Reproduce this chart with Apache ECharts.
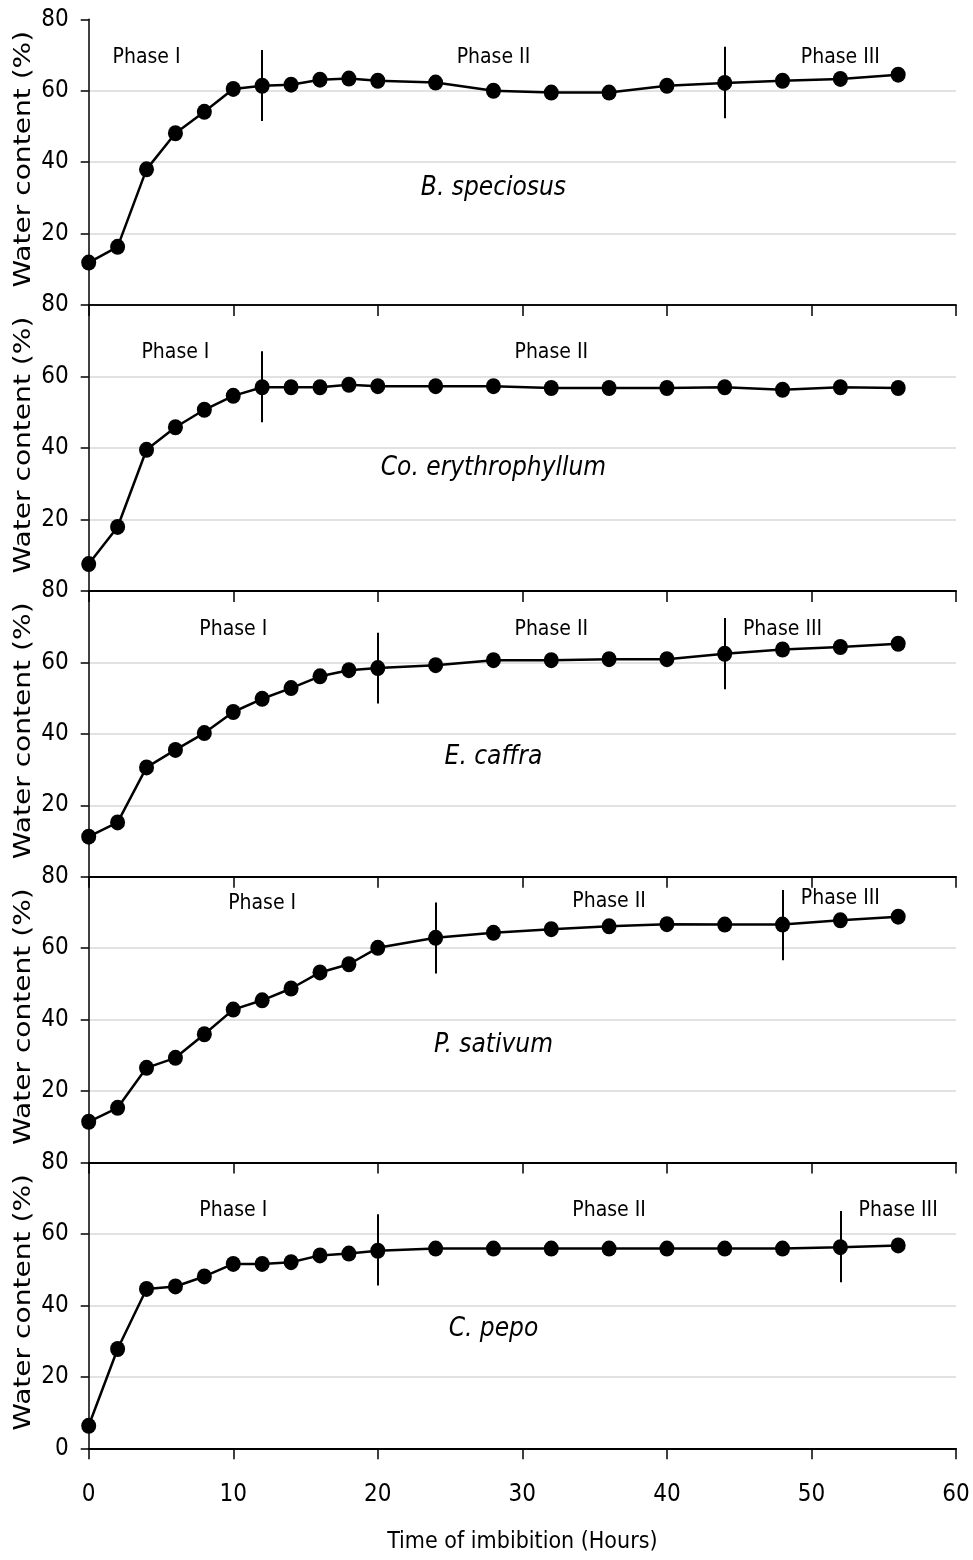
<!DOCTYPE html>
<html>
<head>
<meta charset="utf-8">
<script src="https://cdn.jsdelivr.net/npm/echarts@6/dist/echarts.min.js"></script>
<style>
  html, body { margin: 0; padding: 0; background: #fff; }
  #chart { width: 973px; height: 1560px; }
</style>
</head>
<body>
<div id="chart"></div>
<script>
// ---------------- DATA ----------------
const hours = [0, 2, 4, 6, 8, 10, 12, 14, 16, 18, 20, 24, 28, 32, 36, 40, 44, 48, 52, 56];
const xTicks = [0, 10, 20, 30, 40, 50, 60];
const yTicks = [0, 20, 40, 60, 80];
const species = ['B. speciosus', 'Co. erythrophyllum', 'E. caffra', 'P. sativum', 'C. pepo'];

const bSpeciosus       = [11.9, 16.3, 38.0, 48.1, 54.1, 60.5, 61.4, 61.7, 63.1, 63.4, 62.8, 62.3, 60.0, 59.5, 59.5, 61.4, 62.2, 62.8, 63.3, 64.5];
const coErythrophyllum = [7.5, 17.9, 39.5, 45.8, 50.7, 54.6, 57.0, 57.0, 57.0, 57.7, 57.3, 57.3, 57.3, 56.8, 56.8, 56.8, 57.0, 56.3, 57.0, 56.8];
const eCaffra          = [11.2, 15.2, 30.6, 35.5, 40.2, 46.1, 49.8, 52.8, 56.1, 57.8, 58.4, 59.2, 60.6, 60.6, 60.9, 60.9, 62.4, 63.6, 64.3, 65.2];
const pSativum         = [11.4, 15.3, 26.5, 29.3, 35.9, 42.8, 45.4, 48.7, 53.2, 55.5, 60.1, 62.9, 64.3, 65.3, 66.1, 66.7, 66.6, 66.6, 67.8, 68.8];
const cPepo            = [6.3, 27.8, 44.6, 45.3, 48.1, 51.6, 51.6, 52.1, 54.0, 54.5, 55.3, 55.9, 55.9, 55.9, 55.9, 55.9, 55.9, 55.9, 56.3, 56.8];

// phase dividers: [hour, low, high]
const dividersB  = [[12, 51.5, 71.4], [44, 52.3, 72.3]];
const dividersCo = [[12, 47.2, 67.1]];
const dividersE  = [[20, 48.5, 68.3], [44, 52.5, 72.4]];
const dividersP  = [[24, 52.9, 72.8], [48, 56.6, 76.3]];
const dividersC  = [[20, 45.6, 65.5], [52, 46.5, 66.4]];

// phase labels: [text, hour, value]
const phasesB  = [['Phase I', 4, 69.2], ['Phase II', 28, 69.2], ['Phase III', 52, 69.2]];
const phasesCo = [['Phase I', 6, 66.7], ['Phase II', 32, 66.7]];
const phasesE  = [['Phase I', 10, 69.2], ['Phase II', 32, 69.2], ['Phase III', 48, 69.2]];
const phasesP  = [['Phase I', 12, 72.6], ['Phase II', 36, 73.1], ['Phase III', 52, 73.8]];
const phasesC  = [['Phase I', 10, 66.5], ['Phase II', 36, 66.5], ['Phase III', 56, 66.5]];

// species label anchor [hour, value]
const speciesPos = [[28, 32.8], [28, 34.2], [28, 33.3], [28, 32.8], [28, 33.2]];

const yTitle = 'Water content (%)';
const xTitle = 'Time of imbibition (Hours)';

// ---------------- LAYOUT ----------------
const values   = [bSpeciosus, coErythrophyllum, eCaffra, pSativum, cPepo];
const dividers = [dividersB, dividersCo, dividersE, dividersP, dividersC];
const phases   = [phasesB, phasesCo, phasesE, phasesP, phasesC];

const NARROW = "'Liberation Sans Narrow', 'DejaVu Sans Condensed', 'Noto Sans', sans-serif";
const TOP0 = 19.3, PH = 285.8, LEFT = 88.7, RIGHT = 17;
const TXT = '#000';

const grids = [], xAxes = [], yAxes = [], series = [], graphics = [];

species.forEach((sp, i) => {
  const top = TOP0 + i * PH;
  grids.push({ left: LEFT, right: RIGHT, top: top, height: PH });
  xAxes.push({
    gridIndex: i, type: 'value', position: 'bottom',
    min: xTicks[0], max: xTicks[xTicks.length - 1], interval: xTicks[1] - xTicks[0],
    axisLine: { show: true, onZero: false, lineStyle: { color: '#000', width: i === 0 ? 1.5 : 2 } },
    axisTick: { show: true, inside: false, length: 11, lineStyle: { color: '#000', width: 1.5 } },
    axisLabel: { show: i === 4, margin: 34, fontSize: 24, fontFamily: NARROW, color: TXT },
    splitLine: { show: false },
    name: i === 4 ? xTitle : '',
    nameLocation: 'middle', nameGap: 82,
    nameTextStyle: { fontSize: 23, fontFamily: NARROW, color: TXT }
  });
  yAxes.push({
    gridIndex: i, type: 'value',
    min: yTicks[0], max: yTicks[yTicks.length - 1], interval: yTicks[1] - yTicks[0],
    axisLine: { show: true, lineStyle: { color: '#000', width: 1.5 } },
    axisTick: { show: true, length: 8, lineStyle: { color: '#000', width: 1.5 } },
    axisLabel: { margin: 20, fontSize: 24, fontFamily: NARROW, color: TXT, showMinLabel: i === 4 },
    splitLine: { show: true, showMinLine: false, showMaxLine: false, lineStyle: { color: '#d9d9d9', width: 1.5 } }
  });

  series.push({
    type: 'line', xAxisIndex: i, yAxisIndex: i,
    data: hours.map((h, k) => [h, values[i][k]]),
    symbol: 'circle', symbolSize: [15, 16],
    lineStyle: { color: '#000', width: 2.5 },
    itemStyle: { color: '#000' },
    z: 3,
    markLine: {
      silent: true, symbol: ['none', 'none'], label: { show: false },
      lineStyle: { color: '#000', width: 2, type: 'solid' },
      data: dividers[i].map(d => [{ coord: [d[0], d[1]] }, { coord: [d[0], d[2]] }])
    }
  });

  const labelData = phases[i].map(p => ({
    name: p[0], value: [p[1], p[2]],
    label: { fontSize: 21, fontFamily: NARROW, color: TXT }
  }));
  labelData.push({
    name: sp, value: speciesPos[i],
    label: { fontSize: 26, fontStyle: 'italic', fontFamily: NARROW, color: TXT }
  });
  series.push({
    type: 'scatter', xAxisIndex: i, yAxisIndex: i, silent: true,
    symbol: 'circle', symbolSize: 1, itemStyle: { color: 'rgba(0,0,0,0)', opacity: 1 },
    label: { show: true, position: 'inside', formatter: '{b}', opacity: 1 },
    data: labelData, z: 4
  });

  graphics.push({
    type: 'text', x: 24, y: top + PH / 2 - 3, rotation: Math.PI / 2, scaleX: 1.22,
    style: { text: yTitle, font: "23px 'DejaVu Sans', sans-serif", fill: '#000', align: 'center', verticalAlign: 'middle' }
  });
});

// top frame line of the first panel
xAxes.push({
  gridIndex: 0, type: 'value', position: 'top', min: 0, max: 60,
  axisLine: { show: true, lineStyle: { color: '#000', width: 1.5 } },
  axisTick: { show: false }, axisLabel: { show: false }, splitLine: { show: false }
});

const chart = echarts.init(document.getElementById('chart'), null, { renderer: 'canvas' });
chart.setOption({
  animation: false,
  backgroundColor: '#fff',
  grid: grids,
  xAxis: xAxes,
  yAxis: yAxes,
  series: series,
  graphic: graphics
});
</script>
</body>
</html>
